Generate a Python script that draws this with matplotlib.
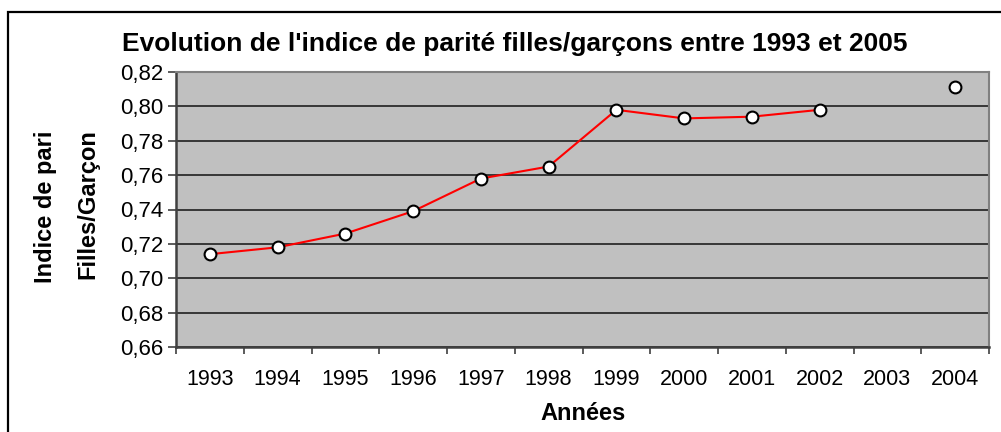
import matplotlib
matplotlib.use("Agg")
import matplotlib.pyplot as plt
import numpy as np
from matplotlib.patches import Rectangle

plt.rcParams['font.family'] = ['Liberation Sans', 'DejaVu Sans']

years = ["1993", "1994", "1995", "1996", "1997", "1998",
         "1999", "2000", "2001", "2002", "2003", "2004"]
parity = [0.714, 0.718, 0.726, 0.739, 0.758, 0.765,
          0.798, 0.793, 0.794, 0.798, np.nan, 0.811]
yticks = [0.66, 0.68, 0.70, 0.72, 0.74, 0.76, 0.78, 0.80, 0.82]
ytick_labels = ["0,66", "0,68", "0,70", "0,72", "0,74", "0,76", "0,78", "0,80", "0,82"]

W, H = 1001, 432
fig = plt.figure(figsize=(W / 100, H / 100), dpi=100)
fig.patch.set_facecolor('white')

# outer chart border (Excel chart area)
fig.patches.append(Rectangle((8 / W, -0.05), 1.2, (H - 12) / H + 0.05,
                             transform=fig.transFigure, fill=False,
                             edgecolor='black', linewidth=1.6))

ax = fig.add_axes([176 / W, 1 - 347 / H, (989 - 176) / W, (347 - 72) / H])
ax.set_facecolor('#C0C0C0')

x = np.arange(len(years))
ax.plot(x, parity, color='#FF0000', linewidth=1.5, marker='o',
        markersize=8.5, markerfacecolor='white', markeredgecolor='black',
        markeredgewidth=1.5, zorder=3)

ax.set_xlim(-0.5, len(years) - 0.5)
ax.set_ylim(0.66, 0.82)
ax.set_yticks(yticks)
ax.set_yticklabels(ytick_labels, fontsize=16)
ax.set_xticks(x)
ax.set_xticklabels(years, fontsize=15.5)
ax.set_xticks(np.arange(len(years) + 1) - 0.5, minor=True)
ax.tick_params(axis='x', which='major', length=0, pad=16)
ax.tick_params(axis='x', which='minor', length=5, width=1.2, color='#404040', direction='out')
ax.tick_params(axis='y', length=6, width=1.2, color='#404040', direction='out', pad=3)

ax.grid(axis='y', color='#202020', linewidth=1.2)
ax.set_axisbelow(True)

ax.spines['left'].set_color('#404040')
ax.spines['left'].set_linewidth(1.8)
ax.spines['bottom'].set_color('#404040')
ax.spines['bottom'].set_linewidth(1.8)
ax.spines['top'].set_color('#808080')
ax.spines['top'].set_linewidth(1.5)
ax.spines['right'].set_color('#808080')
ax.spines['right'].set_linewidth(1.5)

fig.text(583 / W, 1 - 413 / H, "Années", fontsize=17, fontweight='bold',
         ha='center', va='center')

fig.text(46 / W, 1 - 207 / H, "Indice de pari", rotation=90, fontsize=17,
         fontweight='bold', ha='center', va='center')
fig.text(88 / W, 1 - 204 / H, "Filles/Garçon", rotation=90, fontsize=17,
         fontweight='bold', ha='center', va='center')

fig.text(515 / W, 1 - 44 / H,
         "Evolution de l'indice de parité filles/garçons entre 1993 et 2005",
         fontsize=19, fontweight='bold', ha='center', va='center')

fig.savefig("out.png", dpi=100)
